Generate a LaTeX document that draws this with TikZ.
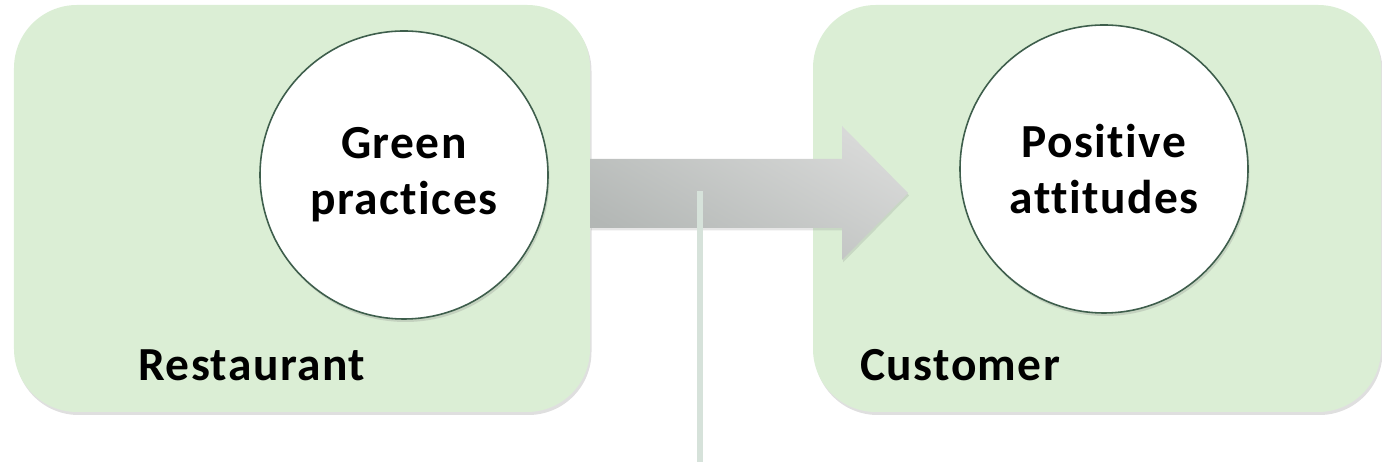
\documentclass[tikz,border=0pt]{standalone}
\usepackage{fontspec}
\setmainfont{Carlito}[Ligatures=NoCommon,LetterSpace=3]
\usetikzlibrary{shadows}
\definecolor{boxgreen}{HTML}{DBEED5}
\definecolor{rimgreen}{HTML}{3E5E4C}
\definecolor{stemgrey}{HTML}{D6E2DA}
\definecolor{arrowdark}{HTML}{B3B7B5}
\definecolor{arrowlight}{HTML}{D8D9D8}
\begin{document}
\begin{tikzpicture}
		\tikzstyle{every node}=[font=\fontsize{27}{32}\selectfont\bfseries];
		\tikzstyle{area}=[fill=boxgreen,rounded corners=1.26cm,minimum height=8.14cm,drop shadow={opacity=0.25,shadow xshift=0.03cm,shadow yshift=-0.06cm}];
		\tikzstyle{bubble}=[draw=rimgreen,line width=0.9pt,fill=white,shape=circle,minimum size=5.76cm,inner sep=0pt,align=center,drop shadow={opacity=0.25,shadow xshift=0.03cm,shadow yshift=-0.06cm}];
		\tikzstyle{tag}=[anchor=base west,inner sep=0pt];
		\useasboundingbox (0,0) rectangle (27.64,9.3);
		% the two areas
		\node[area,minimum width=11.52cm] (rest) at (6.04,5.13) {};
		\node[area,minimum width=11.36cm] (cust) at (21.94,5.13) {};
		\node[tag] (restlbl) at (2.76,1.68) {Restaurant};
		\node[tag] (custlbl) at (17.2,1.68) {Customer};
		% circles
		\node[bubble] (green) at (8.08,5.8) {Green\\practices};
		\node[bubble] (pos) at (22.08,5.92) {Positive\\attitudes};
		% block arrow
		\path[drop shadow={opacity=0.2,shadow xshift=0.02cm,shadow yshift=-0.05cm},left color=arrowdark,right color=arrowlight,shading angle=150]
		(11.8,6.12) -- (16.84,6.12) -- (16.84,6.78) -- (18.16,5.44)
		-- (16.84,4.1) -- (16.84,4.74) -- (11.8,4.74) -- cycle;
		\coordinate (stemtop) at (14.0,5.48);
		\coordinate (stembot) at (14.0,0.06);
		\draw[stemgrey,line width=3.4pt] (stemtop) -- (stembot);
		\end{tikzpicture}
\end{document}
